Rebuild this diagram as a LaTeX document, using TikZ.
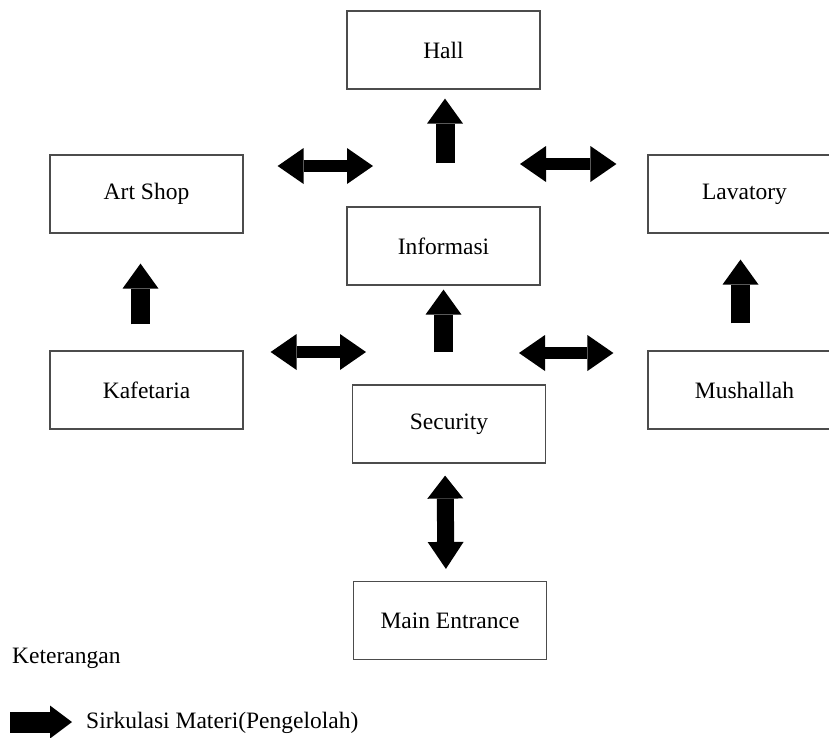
\documentclass[tikz,border=0pt]{standalone}
\usepackage{fontspec}
\setmainfont{Liberation Serif}
\usepackage{xcolor}
\usetikzlibrary{arrows.meta,positioning}

\begin{document}
\begin{tikzpicture}[x=1pt,y=-1pt,
    room/.style={draw=black!70,line width=1.2pt,fill=white,minimum width=193pt,
                 minimum height=78pt,font=\fontsize{23.5}{28}\selectfont,inner sep=0pt},
    uparrow/.style={line width=19pt,-{Triangle[length=25pt,width=36pt,line width=0pt]}},
    dblarrow/.style={line width=12pt,{Triangle[length=26pt,width=36pt,line width=0pt]}-{Triangle[length=26pt,width=36pt,line width=0pt]}},
    vdblarrow/.style={line width=17pt,{Triangle[length=27pt,width=36pt,line width=0pt]}-{Triangle[length=23pt,width=36pt,line width=0pt]}},
    legarrow/.style={line width=21pt,-{Triangle[length=22pt,width=33pt,line width=0pt]}},
    note/.style={font=\fontsize{23.5}{28}\selectfont,inner sep=0pt}]
    \useasboundingbox (0,0) rectangle (829,737);
    \clip (0,0) rectangle (829,737);

    % rooms
    \node[room] (hall) at (443.5,50) {Hall};
    \node[room] (info) at (443.5,246) {Informasi};
    \node[room] (sec)  at (449,424) {Security};
    \node[room] (main) at (450,620.5) {Main Entrance};
    \node[room] (art)  at (146.5,194) {Art Shop};
    \node[room] (kafe) at (146.5,390) {Kafetaria};
    \node[room] (lav)  at (744.5,194) {Lavatory};
    \node[room] (mush) at (744.5,390) {Mushallah};

    % free ends of the side arrows
    \coordinate (hl) at (373,166);
    \coordinate (hr) at (520,164);
    \coordinate (ml) at (366,352);
    \coordinate (mr) at (519,353);

    % circulation
    \draw[uparrow,shorten <=43pt,shorten >=9pt] ([xshift=1.5pt]info.north) -- ([xshift=1.5pt]hall.south);
    \draw[uparrow,shorten <=32pt,shorten >=4pt] (info.south |- sec.north) -- (info.south);
    \draw[uparrow,shorten <=26pt,shorten >=30pt] ([xshift=-6pt]kafe.north) -- ([xshift=-6pt]art.south);
    \draw[uparrow,shorten <=27pt,shorten >=26pt] ([xshift=-4pt]mush.north) -- ([xshift=-4pt]lav.south);
    \draw[vdblarrow,shorten <=12pt,shorten >=12pt] ([xshift=-4pt]main.north) -- ([xshift=-4pt]sec.south);
    \draw[dblarrow,shorten <=34pt] (art.east |- hl) -- (hl);
    \draw[dblarrow,shorten >=31pt] (hr) -- (lav.west |- hr);
    \draw[dblarrow,shorten <=27pt] (kafe.east |- ml) -- (ml);
    \draw[dblarrow,shorten >=34pt] (mr) -- (mush.west |- mr);

    % keterangan
    \node[note,anchor=base west] (ket) at (12,663) {Keterangan};
    \coordinate (lega) at (10,722);
    \coordinate (legb) at (72,722);
    \draw[legarrow] (lega) -- (legb);
    \node[note,anchor=base west] (legtext) at (86,728) {Sirkulasi Materi(Pengelolah)};
\end{tikzpicture}
\end{document}
